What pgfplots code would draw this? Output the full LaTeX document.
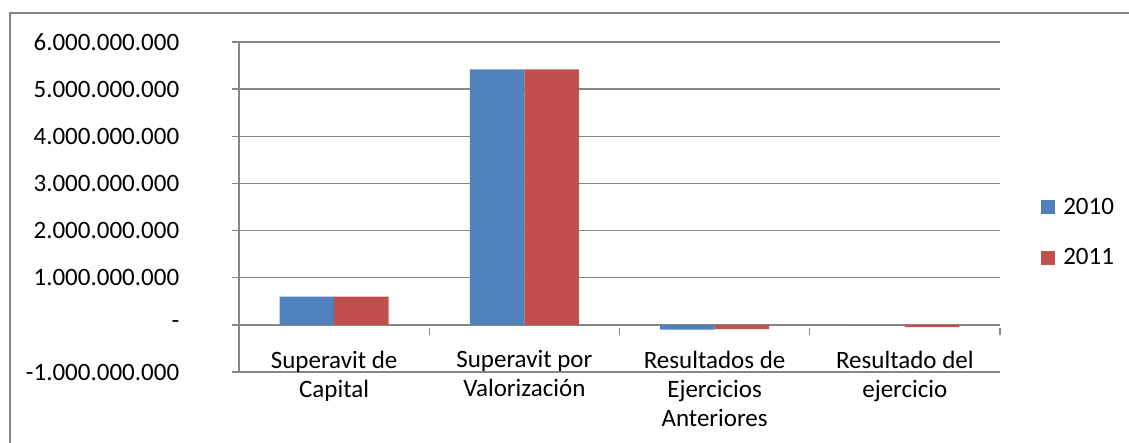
\documentclass[border=0pt]{standalone}
\usepackage{fontspec}
\setmainfont{Carlito}
\usepackage{pgfplots}
\pgfplotsset{compat=1.18}
\definecolor{xblue}{RGB}{79,129,189}
\definecolor{xred}{RGB}{192,80,77}
\definecolor{xgrid}{RGB}{134,134,134}
\newcommand{\chartfont}{\fontsize{18.75pt}{21.75pt}\selectfont}
\begin{document}
\begin{tikzpicture}
\useasboundingbox (0,0) rectangle (846.75pt,332.25pt);
% outer chart frame (only left and top edges are visible)
\draw[xgrid, line width=0.9pt] (7.5pt,0) -- (7.5pt,322.5pt) -- (846.75pt,322.5pt);
\begin{axis}[
  at={(179.25pt,53.25pt)}, anchor=south west,
  scale only axis, width=570.75pt, height=247.5pt,
  xmin=0.5, xmax=4.5, ymin=-1000000000, ymax=6000000000,
  scaled y ticks=false,
  axis x line*=middle, axis y line*=left,
  hide obscured x ticks=false, hide obscured y ticks=false,
  axis line style={xgrid, line width=1.1pt},
  tick align=center,
  major tick length=5.25pt, minor tick length=5.25pt,
  ybar=0pt, bar width=40.875pt,
  xtick={1,2,3,4},
  xticklabels={{Superavit de\\Capital},{Superavit por\\Valorización},{Resultados de\\Ejercicios\\Anteriores},{Resultado del\\ejercicio}},
  xticklabel style={align=center, anchor=north, inner sep=0pt, yshift=-14pt, font=\chartfont},
  major x tick style={draw=none},
  minor xtick={0.5,1.5,2.5,3.5,4.5},
  minor x tick style={yshift=-2.625pt, xgrid, line width=1.1pt},
  ytick={-1000000000,0,1000000000,2000000000,3000000000,4000000000,5000000000,6000000000},
  yticklabels={-1.000.000.000,-\hspace{7.5pt},1.000.000.000,2.000.000.000,3.000.000.000,4.000.000.000,5.000.000.000,6.000.000.000},
  yticklabel style={anchor=east, inner sep=0pt, xshift=-42pt, font=\chartfont},
  major y tick style={xshift=-2.625pt, xgrid, line width=1.1pt},
  ymajorgrids, major grid style={xgrid, line width=1.1pt},
  legend style={at={(1.0539,0.4227)}, anchor=west, draw=none, fill=none,
    inner sep=0pt, row sep=24pt, font=\chartfont, nodes={inner sep=0pt},
    /tikz/every odd column/.style={column sep=6pt}},
  legend cell align=left,
  legend image code/.code={\fill[#1] (0pt,-5.25pt) rectangle (10.5pt,5.25pt);},
]
\addplot[fill=xblue, draw=none] coordinates {(1,600000000) (2,5420000000) (3,-100000000) (4,0)};
\addplot[fill=xred, draw=none] coordinates {(1,600000000) (2,5420000000) (3,-90000000) (4,-50000000)};
\legend{2010,2011}
\end{axis}
\end{tikzpicture}
\end{document}
